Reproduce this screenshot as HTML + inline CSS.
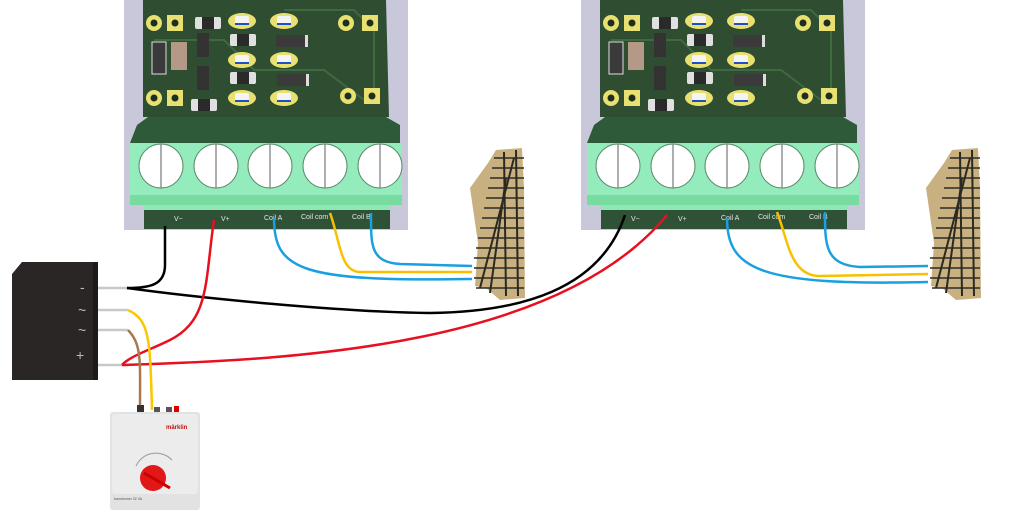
<!DOCTYPE html>
<html><head><meta charset="utf-8"><style>
html,body{margin:0;padding:0;background:#fff;width:1024px;height:527px;overflow:hidden}
svg{display:block}
text{font-family:"Liberation Sans",sans-serif}
</style></head><body>
<svg width="1024" height="527" viewBox="0 0 1024 527" xmlns="http://www.w3.org/2000/svg">
<defs>
<g id="pad"><ellipse cx="0" cy="0" rx="14" ry="8" fill="#e8e070"/><rect x="-7" y="-5" width="14" height="8" rx="2" fill="#f4f4f4"/><rect x="-7" y="2" width="14" height="2" fill="#2050c0"/></g>
<g id="res"><rect x="-13" y="-6" width="26" height="12" rx="2" fill="#e0e0e0"/><rect x="-6" y="-6" width="12" height="12" fill="#2a2a2a"/></g>
<g id="rnd"><circle r="8" fill="#e8e070"/><circle r="3.5" fill="#1e2e1e"/></g>
<g id="sq"><rect x="-8" y="-8" width="16" height="16" fill="#e8e070"/><circle r="3.5" fill="#1e2e1e"/></g>
<g id="scr"><circle r="22" fill="#fff" stroke="#5a8a6a" stroke-width="1"/><line x1="0" y1="-22" x2="0" y2="22" stroke="#777" stroke-width="1.2"/></g>
<g id="board">
<rect x="0" y="0" width="284" height="230" fill="#c8c8da"/>
<polygon points="19,0 262,0 265,117 19,117" fill="#2f4d31"/>
<path d="M30 40 L100 40 L130 70 L200 70 L240 100" stroke="#3e6a40" stroke-width="2" fill="none"/>
<path d="M160 10 L230 10 L250 30 L250 90" stroke="#3e6a40" stroke-width="2" fill="none"/>
<use href="#rnd" x="30" y="23"/><use href="#sq" x="51" y="23"/>
<use href="#rnd" x="30" y="98"/><use href="#sq" x="51" y="98"/>
<use href="#rnd" x="222" y="23"/><use href="#sq" x="246" y="23"/>
<use href="#rnd" x="224" y="96"/><use href="#sq" x="248" y="96"/>
<use href="#pad" x="118" y="21"/><use href="#pad" x="160" y="21"/>
<use href="#pad" x="118" y="60"/><use href="#pad" x="160" y="60"/>
<use href="#pad" x="118" y="98"/><use href="#pad" x="160" y="98"/>
<use href="#res" x="84" y="23"/><use href="#res" x="119" y="40"/><use href="#res" x="119" y="78"/><use href="#res" x="80" y="105"/>
<rect x="28" y="42" width="14" height="32" fill="#3a3a3a" stroke="#ddd"/>
<rect x="47" y="42" width="16" height="28" fill="#b49a86"/>
<rect x="73" y="33" width="12" height="24" fill="#333"/><rect x="73" y="66" width="12" height="24" fill="#333"/>
<rect x="152" y="35" width="30" height="12" fill="#3a3a3a"/><rect x="181" y="35" width="3" height="12" fill="#ddd"/>
<rect x="153" y="74" width="30" height="12" fill="#3a3a3a"/><rect x="182" y="74" width="3" height="12" fill="#ddd"/>
<polygon points="13,125 24,117 262,117 276,125 276,143 6,143" fill="#2e5a3a"/>
<rect x="6" y="143" width="272" height="62" fill="#94ecbc"/>
<rect x="6" y="195" width="272" height="10" fill="#78dca0"/>
<use href="#scr" x="37" y="166"/><use href="#scr" x="92" y="166"/><use href="#scr" x="146" y="166"/><use href="#scr" x="201" y="166"/><use href="#scr" x="256" y="166"/>
<rect x="20" y="205" width="246" height="24" fill="#2f5237"/>
<rect x="20" y="205" width="246" height="5" fill="#8de8b4"/>
<g fill="#e6e6e6" font-size="7"><text x="50" y="221">V−</text><text x="97" y="221">V+</text><text x="140" y="220">Coil A</text><text x="177" y="219">Coil com</text><text x="228" y="219">Coil B</text></g>
</g>
<g id="track">
<polygon points="26,2 52,0 54,40 55,150 30,152 16,140 5,138 8,95 0,40 18,15" fill="#c8b080"/>
<g stroke="#2a2a22" stroke-width="2">
<line x1="34" y1="4" x2="36" y2="148"/><line x1="46" y1="2" x2="48" y2="148"/>
<line x1="44" y1="10" x2="10" y2="140"/><line x1="36" y1="30" x2="20" y2="145"/>
</g>
<g stroke="#2a2a22" stroke-width="1.5">
<line x1="24" y1="10" x2="54" y2="10"/><line x1="22" y1="20" x2="54" y2="20"/><line x1="20" y1="30" x2="54" y2="30"/><line x1="18" y1="40" x2="54" y2="40"/><line x1="16" y1="50" x2="54" y2="50"/><line x1="14" y1="60" x2="54" y2="60"/><line x1="12" y1="70" x2="54" y2="70"/><line x1="10" y1="80" x2="54" y2="80"/><line x1="8" y1="90" x2="54" y2="90"/><line x1="6" y1="100" x2="54" y2="100"/><line x1="4" y1="110" x2="54" y2="110"/><line x1="4" y1="120" x2="54" y2="120"/><line x1="4" y1="130" x2="54" y2="130"/><line x1="6" y1="140" x2="54" y2="140"/>
</g>
</g>
</defs>

<use href="#board" x="124" y="0"/>
<use href="#board" x="581" y="0"/>
<use href="#track" x="470" y="148"/>
<use href="#track" x="926" y="148"/>

<g fill="none" stroke-width="2.5">
<path d="M274 218 C274 270 300 282 472 279" stroke="#1aa0e0"/>
<path d="M330 213 C340 240 340 272 360 272 L472 272" stroke="#f8c000"/>
<path d="M371 213 C371 245 370 262 400 264 L472 266" stroke="#1aa0e0"/>
<path d="M727 218 C727 270 760 286 928 282" stroke="#1aa0e0"/>
<path d="M777 212 C788 240 790 276 820 276 L928 274" stroke="#f8c000"/>
<path d="M825 212 C825 245 825 265 860 267 L928 266" stroke="#1aa0e0"/>
</g>

<polygon points="22,262 95,262 95,380 12,380 12,274" fill="#2a2626"/>
<rect x="93" y="262" width="5" height="118" fill="#1c1a1a"/>
<g stroke="#c8c8c8" stroke-width="2.5"><line x1="98" y1="288" x2="128" y2="288"/><line x1="98" y1="310" x2="128" y2="310"/><line x1="98" y1="330" x2="128" y2="330"/><line x1="98" y1="365" x2="125" y2="365"/></g>
<g fill="#bbb" font-size="14"><text x="80" y="292">-</text><text x="78" y="315">~</text><text x="78" y="335">~</text><text x="76" y="360">+</text></g>

<g fill="none" stroke-width="2.5">
<path d="M165 226 L165 265 C165 285 150 288 127 288" stroke="#000"/>
<path d="M127 288 C200 298 340 312 430 313 C520 312 600 290 625 215" stroke="#000"/>
<path d="M214 220 C205 280 210 320 170 340 C150 350 130 356 122 365" stroke="#e81020"/>
<path d="M122 365 C300 360 560 345 667 215" stroke="#e81020"/>
<path d="M128 310 C150 320 150 340 152 410" stroke="#f8c800"/>
<path d="M128 330 C142 345 140 360 140 410" stroke="#a87850"/>
</g>

<rect x="137" y="405" width="7" height="8" fill="#333"/><rect x="154" y="407" width="6" height="5" fill="#555"/><rect x="166" y="407" width="6" height="5" fill="#555"/><rect x="174" y="406" width="5" height="6" fill="#d00"/>
<rect x="110" y="412" width="90" height="98" rx="3" fill="#e2e2e2"/>
<rect x="112" y="414" width="86" height="80" rx="3" fill="#ececec"/>
<text x="166" y="429" font-size="6" fill="#c01010" font-weight="bold">märklin</text>
<circle cx="153" cy="478" r="13" fill="#e01818"/>
<line x1="144" y1="473" x2="170" y2="488" stroke="#c00" stroke-width="3"/>
<path d="M136 466 A22 22 0 0 1 172 460" stroke="#999" stroke-width="1" fill="none"/>
<text x="114" y="500" font-size="3.5" fill="#555">transformer 32 VA</text>
</svg>
</body></html>
